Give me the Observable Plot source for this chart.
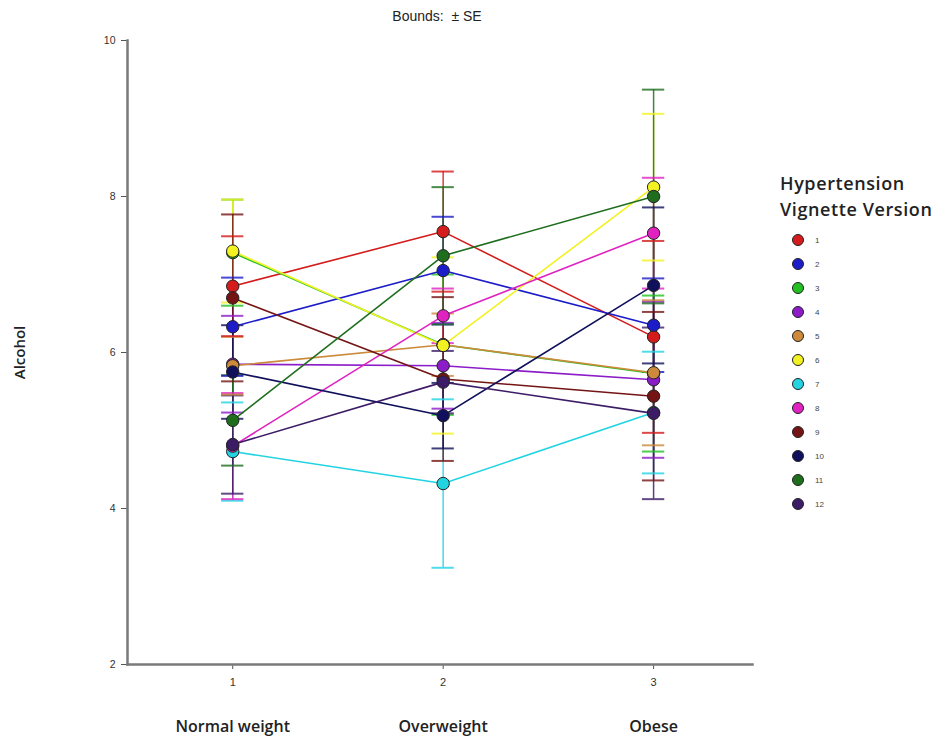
<!DOCTYPE html>
<html>
<head>
<meta charset="utf-8">
<script src="https://cdn.jsdelivr.net/npm/d3@7"></script>
<script src="https://cdn.jsdelivr.net/npm/@observablehq/plot@0.6"></script>
<style>
  html, body { margin: 0; padding: 0; background: #fff; }
  #wrap { position: relative; width: 951px; height: 744px; font-family: Arial, "Liberation Sans", sans-serif; }
  #subtitle { position: absolute; left: 0; width: 874px; top: 8px; text-align: center; font-size: 14px; color: #222; white-space: pre; }
  #chart { position: absolute; left: 0; top: 30px; }
  #legend { position: absolute; left: 780px; top: 170px; font-family: "Open Sans", Calibri, "Liberation Sans", sans-serif; }
  #legend .title { font-weight: 600; font-size: 18px; line-height: 26px; color: #222; margin-bottom: 6px; letter-spacing: 0.6px; }
  #legend .item { display: flex; align-items: center; height: 24px; }
  #legend .sw { width: 10px; height: 10px; border-radius: 50%; border: 1px solid #222; margin-left: 12px; margin-right: 11px; }
  #legend .lab { font-size: 8px; color: #444; font-family: Arial, "Liberation Sans", sans-serif; }
</style>
</head>
<body>
<div id="wrap">
  <div id="subtitle">Bounds:  ± SE</div>
  <div id="chart"></div>
  <div id="legend"></div>
</div>
<script>
// ---- data ----
const categories = ["Normal weight", "Overweight", "Obese"];
const xTicks = [1, 2, 3];
const yTicks = [2, 4, 6, 8, 10];
const series = ["1", "2", "3", "4", "5", "6", "7", "8", "9", "10", "11", "12"];
const colors = ["#d41c1c", "#1c1cc8", "#22c022", "#8c1cc8", "#cc8a3a", "#f2f222", "#22d4e2", "#e022c0", "#741414", "#10105c", "#1e6e1e", "#3c1c66"];

const meanNormal = [6.85, 6.33, 7.28, 5.85, 5.83, 7.30, 4.73, 4.80, 6.70, 5.75, 5.13, 4.82];
const meanOver   = [7.55, 7.05, 6.10, 5.83, 6.10, 6.09, 4.32, 6.47, 5.66, 5.19, 7.24, 5.62];
const meanObese  = [6.20, 6.35, 5.73, 5.65, 5.74, 8.12, 5.23, 7.53, 5.44, 6.86, 8.00, 5.22];

const seNormal = [0.64, 0.63, 0.68, 0.62, 0.37, 0.66, 0.63, 0.68, 1.07, 0.60, 0.58, 0.63];
const seOver   = [0.77, 0.69, 0.90, 0.55, 0.40, 1.13, 1.08, 0.35, 1.05, 0.42, 0.88, 0.40];
const seObese  = [1.23, 0.60, 1.00, 1.00, 0.93, 0.94, 0.78, 0.71, 1.08, 1.00, 1.37, 1.10];

// ---- build table ----
const means = [meanNormal, meanOver, meanObese];
const ses = [seNormal, seOver, seObese];
const rows = [];
series.forEach((s, i) => {
  xTicks.forEach((x, j) => {
    rows.push({series: s, x, mean: means[j][i], se: ses[j][i]});
  });
});
const capHalf = 0.053;
const labelFont = "'Open Sans', Calibri, 'Liberation Sans', sans-serif";

const chart = Plot.plot({
  width: 951,
  height: 714,
  marginLeft: 127,
  marginRight: 199,
  marginTop: 10,
  marginBottom: 80,
  x: {domain: [0.5, 3.47]},
  y: {domain: [2, 10]},
  color: {domain: series, range: colors},
  style: {fontFamily: "Arial, 'Liberation Sans', sans-serif", background: "white", color: "#333"},
  marks: [
    Plot.axisY({ticks: yTicks, tickFormat: "d", tickSize: 6, tickPadding: 6, fontSize: 10.5, label: null, stroke: "#555"}),
    Plot.axisX({ticks: xTicks, tickFormat: "d", tickSize: 5, tickPadding: 9, fontSize: 11, label: null, stroke: "#555"}),
    Plot.axisX({ticks: xTicks, tickFormat: d => categories[d - 1], tickSize: 0, tickPadding: 56,
      fontSize: 16, fontWeight: 600, label: null, fill: "#222", fontFamily: labelFont}),
    Plot.frame({anchor: "left", stroke: "#7a7a7a", strokeWidth: 2.5}),
    Plot.frame({anchor: "bottom", stroke: "#7a7a7a", strokeWidth: 2.5}),
    Plot.ruleX(rows, {x: "x", y1: d => d.mean - d.se, y2: d => d.mean + d.se, stroke: "series", strokeWidth: 1.5, strokeOpacity: 0.85}),
    Plot.ruleY(rows, {y: d => d.mean + d.se, x1: d => d.x - capHalf, x2: d => d.x + capHalf, stroke: "series", strokeWidth: 2, strokeOpacity: 0.8}),
    Plot.ruleY(rows, {y: d => d.mean - d.se, x1: d => d.x - capHalf, x2: d => d.x + capHalf, stroke: "series", strokeWidth: 2, strokeOpacity: 0.8}),
    Plot.line(rows, {x: "x", y: "mean", z: "series", stroke: "series", strokeWidth: 1.6}),
    Plot.dot(rows, {x: "x", y: "mean", fill: "series", r: 6.2, stroke: "#222", strokeWidth: 1}),
    Plot.text(["Alcohol"], {frameAnchor: "left", rotate: -90, dx: -107, textAnchor: "middle", fontSize: 15, fontWeight: 600, fill: "#222", fontFamily: labelFont})
  ]
});
document.getElementById("chart").appendChild(chart);

// ---- legend ----
const legend = document.getElementById("legend");
const t = document.createElement("div");
t.className = "title";
t.innerHTML = "Hypertension<br>Vignette Version";
legend.appendChild(t);
series.forEach((s, i) => {
  const it = document.createElement("div");
  it.className = "item";
  const sw = document.createElement("div");
  sw.className = "sw";
  sw.style.background = colors[i];
  const lab = document.createElement("span");
  lab.className = "lab";
  lab.textContent = s;
  it.appendChild(sw);
  it.appendChild(lab);
  legend.appendChild(it);
});
</script>
</body>
</html>
